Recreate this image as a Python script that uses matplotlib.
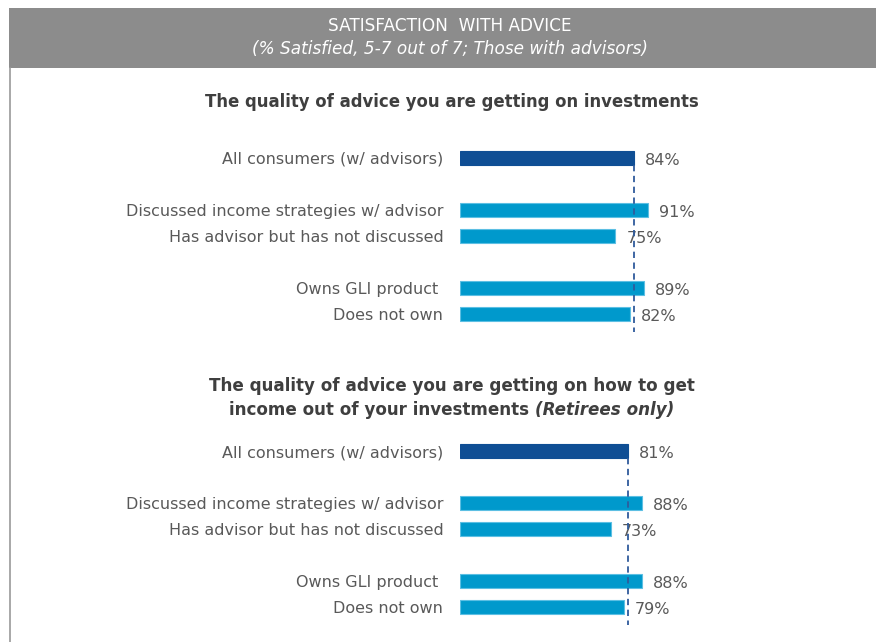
import matplotlib
matplotlib.use("Agg")
import matplotlib.pyplot as plt
from matplotlib.patches import Rectangle
from matplotlib.lines import Line2D

# Datos del gráfico
categorias = ["All consumers (w/ advisors)",
              "Discussed income strategies w/ advisor",
              "Has advisor but has not discussed",
              "Owns GLI product ",
              "Does not own"]
valores_inversiones = [84, 91, 75, 89, 82]
valores_ingresos = [81, 88, 73, 88, 79]
posiciones = [0, 2, 3, 5, 6]

titulo_cabecera = "SATISFACTION  WITH ADVICE"
subtitulo_cabecera = "(% Satisfied, 5-7 out of 7; Those with advisors)"
titulo_1 = "The quality of advice you are getting on investments"
titulo_2a = "The quality of advice you are getting on how to get"
titulo_2b = "income out of your investments "
titulo_2c = "(Retirees only)"

# Estilo
AZUL_OSCURO = "#0f4e94"
AZUL_CLARO = "#0099cc"
BORDE_CLARO = "#5cbfe3"
GRIS_TEXTO = "#595959"
GRIS_TITULO = "#3f3f3f"
ANCHO, ALTO = 876, 642
FUENTE = "DejaVu Sans"

plt.rcParams['font.family'] = [FUENTE]

fig = plt.figure(figsize=(ANCHO / 100, ALTO / 100), dpi=100)
fig.patch.set_facecolor("white")


def fx(px):
    return px / ANCHO


def fy(py):
    return 1 - py / ALTO


# Cabecera gris y borde izquierdo
fig.patches.append(Rectangle((fx(9), fy(68)), fx(ANCHO - 9), 60 / ALTO,
                             transform=fig.transFigure, facecolor="#8c8c8c",
                             edgecolor="none", zorder=0))
fig.lines.append(Line2D([fx(9.5), fx(9.5)], [fy(68), 0], transform=fig.transFigure,
                        color="#9a9a9a", linewidth=1.2))
fig.text(fx(450), fy(26), titulo_cabecera, color="white", fontsize=12.2,
         ha="center", va="center")
fig.text(fx(450), fy(49), subtitulo_cabecera, color="white", fontsize=12.2,
         style="italic", ha="center", va="center")


def graficar(rect_px, valores):
    izq, arriba, ancho, alto = rect_px
    ax = fig.add_axes([fx(izq), fy(arriba + alto), fx(ancho), alto / ALTO])
    colores = [AZUL_OSCURO] + [AZUL_CLARO] * (len(valores) - 1)
    bordes = [AZUL_OSCURO] + [BORDE_CLARO] * (len(valores) - 1)
    ax.barh(posiciones, valores, height=0.54, color=colores,
            edgecolor=bordes, linewidth=0.8, zorder=2)
    ax.set_xlim(0, 100)
    ax.set_ylim(7, -1)
    ax.set_yticks(posiciones)
    ax.set_yticklabels(categorias, fontsize=11.5, color=GRIS_TEXTO)
    ax.tick_params(axis="y", length=0, pad=12)
    ax.set_xticks([])
    for lado in ax.spines.values():
        lado.set_visible(False)
    ax.patch.set_alpha(0)
    for y, v in zip(posiciones, valores):
        ax.annotate(f"{v}%", xy=(v, y), xytext=(8, -2), textcoords="offset points",
                    ha="left", va="center", fontsize=11.5, color=GRIS_TEXTO, zorder=3)
    ax.vlines(valores[0], 0.25, 6.7, colors="#2f5b9c", linestyles=(0, (3.5, 2.5)),
              linewidth=1.3, zorder=4)
    return ax


graficar((460, 132, 207, 208), valores_inversiones)
graficar((460, 425, 207, 208), valores_ingresos)

# Títulos de cada gráfico
fig.text(fx(452), fy(102), titulo_1, color=GRIS_TITULO, fontsize=11.9,
         fontweight="bold", ha="center", va="center")
fig.text(fx(452), fy(386), titulo_2a, color=GRIS_TITULO, fontsize=12.1,
         fontweight="bold", ha="center", va="center")
t_b = fig.text(0, fy(410), titulo_2b, color=GRIS_TITULO, fontsize=12.1,
               fontweight="bold", ha="left", va="center")
t_c = fig.text(0, fy(410), titulo_2c, color=GRIS_TITULO, fontsize=12.1,
               fontweight="bold", style="italic", ha="left", va="center")
r = fig.canvas.get_renderer()
wb = t_b.get_window_extent(r).width
wc = t_c.get_window_extent(r).width
inicio = 452 - (wb + wc) / 2
t_b.set_x(fx(inicio))
t_c.set_x(fx(inicio + wb))

fig.savefig("out.png", dpi=100)
